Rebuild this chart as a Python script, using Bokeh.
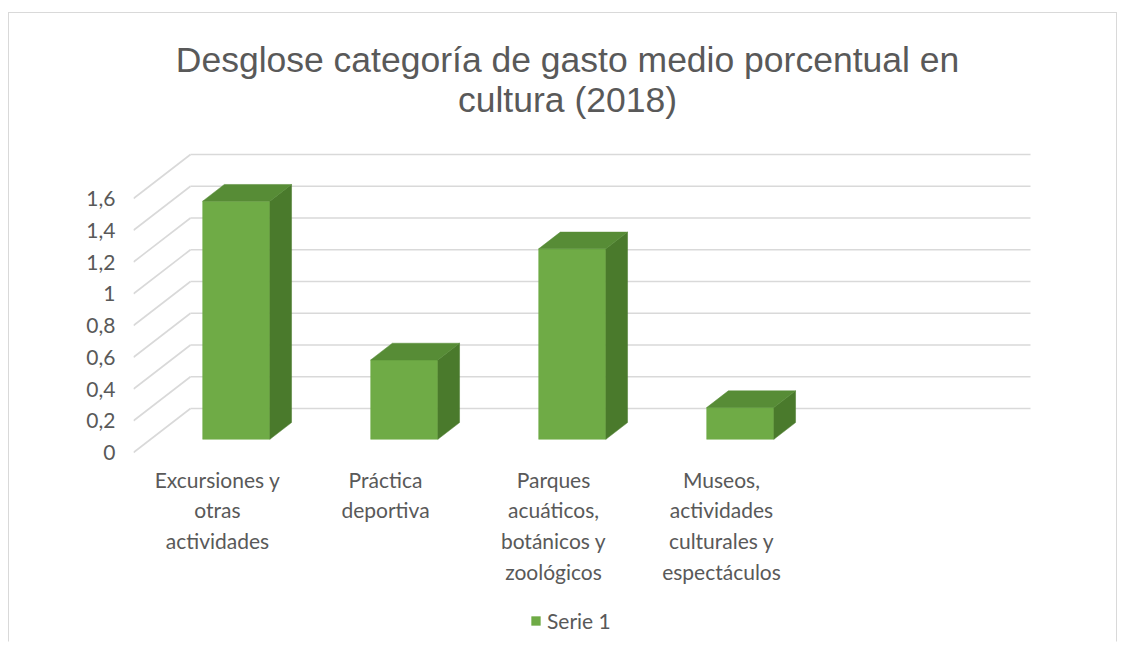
from bokeh.plotting import figure
from bokeh.models import Range1d, FixedTicker, Legend, LegendItem, ColumnDataSource
from bokeh.core.properties import value
from bokeh.embed import file_html
from bokeh.resources import INLINE

# ---------------- data ----------------
categories = [
    "Excursiones y\notras\nactividades",
    "Práctica\ndeportiva",
    "Parques\nacuáticos,\nbotánicos y\nzoológicos",
    "Museos,\nactividades\nculturales y\nespectáculos",
]
values = [1.5, 0.5, 1.2, 0.2]
y_ticks = [0, 0.2, 0.4, 0.6, 0.8, 1.0, 1.2, 1.4, 1.6]
y_tick_labels = ["0", "0,2", "0,4", "0,6", "0,8", "1", "1,2", "1,4", "1,6"]
series_name = "Serie 1"
title_lines = ["Desglose categoría de gasto medio porcentual en", "cultura (2018)"]
n_slots = 5  # category slots on the floor (one left empty, as in the original)

# ---------------- geometry / style ----------------
MARGIN_LEFT, MARGIN_TOP = 8, 12
CANVAS_X, CANVAS_Y = MARGIN_LEFT + 1, MARGIN_TOP + 1   # page position of canvas (after border)
W, H = 1109, 630
X0_PX = 133.0     # page x of the front-left floor corner
Y0_PX = 452.0     # page y of value 0 on the front plane
SLOT_PX = 168.0   # pixels per category slot
UNIT_PX = 158.75  # pixels per value unit
LEFT = int(X0_PX - CANVAS_X)

def px_x(px):
    return (px - X0_PX) / SLOT_PX

def px_y(py):
    return (Y0_PX - py) / UNIT_PX

DX = 57.0 / SLOT_PX   # depth offset (x) of the back wall
DY = 44.0 / UNIT_PX   # depth offset (y) of the back wall
GAP, BW = 0.31, 0.40  # bar position inside slot
D0, D1 = 0.30, 0.68   # bar front/back depth fraction

TEXT = "#595959"
GRID = "#d9d9d9"
FRONT, TOP, SIDE = "#6fab46", "#578c36", "#4a7a2c"
FONT = "Lato"

p = figure(
    width=W, height=H, title=None, toolbar_location=None, output_backend="svg",
    x_range=Range1d(px_x(CANVAS_X + LEFT), px_x(CANVAS_X + W)),
    y_range=Range1d(px_y(CANVAS_Y + H), px_y(CANVAS_Y)),
    x_axis_location=None,
    min_border_left=LEFT, min_border_right=0, min_border_top=0, min_border_bottom=0,
    background_fill_color="white", border_fill_color="white",
)
p.outline_line_color = None
p.grid.visible = False
p.styles = {"border": "1px solid #d9d9d9", "border-bottom": "1px solid white",
            "margin-left": f"{MARGIN_LEFT}px", "margin-top": f"{MARGIN_TOP}px"}

# y axis (front plane)
ax = p.yaxis[0]
ax.ticker = FixedTicker(ticks=y_ticks)
ax.major_label_overrides = {t: l for t, l in zip(y_ticks, y_tick_labels)}
ax.axis_line_color = None
ax.major_tick_line_color = None
ax.minor_tick_line_color = None
ax.major_tick_out = 0
ax.major_tick_in = 0
ax.major_label_standoff = 18
ax.major_label_text_font = FONT
ax.major_label_text_font_size = "21px"
ax.major_label_text_color = TEXT

# back wall and side wall grid lines
back_xs = [[DX, n_slots + DX] for t in y_ticks]
back_ys = [[t + DY, t + DY] for t in y_ticks]
side_xs = [[0, DX] for t in y_ticks]
side_ys = [[t, t + DY] for t in y_ticks]
p.multi_line(back_xs + side_xs, back_ys + side_ys, line_color=GRID, line_width=1.6)

# bars
def P(x, y, d):
    return x + d * DX, y + d * DY

front_x, front_y, side_x, side_y, top_x, top_y = [], [], [], [], [], []
for i, v in enumerate(values):
    x0 = i + GAP
    x1 = x0 + BW
    pts = [P(x0, 0, D0), P(x1, 0, D0), P(x1, v, D0), P(x0, v, D0)]
    front_x.append([q[0] for q in pts]); front_y.append([q[1] for q in pts])
    pts = [P(x1, 0, D0), P(x1, 0, D1), P(x1, v, D1), P(x1, v, D0)]
    side_x.append([q[0] for q in pts]); side_y.append([q[1] for q in pts])
    pts = [P(x0, v, D0), P(x1, v, D0), P(x1, v, D1), P(x0, v, D1)]
    top_x.append([q[0] for q in pts]); top_y.append([q[1] for q in pts])

r_front = p.patches(front_x, front_y, fill_color=FRONT, line_color=FRONT, line_width=0.5)
p.patches(side_x, side_y, fill_color=SIDE, line_color=SIDE, line_width=0.5)
p.patches(top_x, top_y, fill_color=TOP, line_color=TOP, line_width=0.5)

# category labels
lab_src = ColumnDataSource(dict(
    x=[i + 0.5 for i in range(len(categories))],
    y=[px_y(466)] * len(categories),
    text=categories,
))
p.text(x="x", y="y", text="text", source=lab_src, text_align="center",
       text_baseline="top", text_font=value(FONT), text_font_size="21px",
       text_color=TEXT, text_line_height=1.23)

# title
tit_src = ColumnDataSource(dict(
    x=[px_x(567)] * 2,
    y=[px_y(59), px_y(99)],
    text=title_lines,
))
p.text(x="x", y="y", text="text", source=tit_src, text_align="center",
       text_baseline="middle", text_font=value("Liberation Sans"),
       text_font_size="35.5px", text_color=TEXT)

# legend
legend = Legend(items=[LegendItem(label=series_name, renderers=[r_front])],
                location=(397, 10), orientation="horizontal",
                border_line_color=None, background_fill_alpha=0,
                padding=0, margin=0, spacing=0, label_standoff=6,
                glyph_width=11, glyph_height=11, label_height=22,
                label_text_font=FONT, label_text_font_size="21px",
                label_text_color=TEXT)
p.add_layout(legend)

open("out.html", "w").write(file_html(p, INLINE))
